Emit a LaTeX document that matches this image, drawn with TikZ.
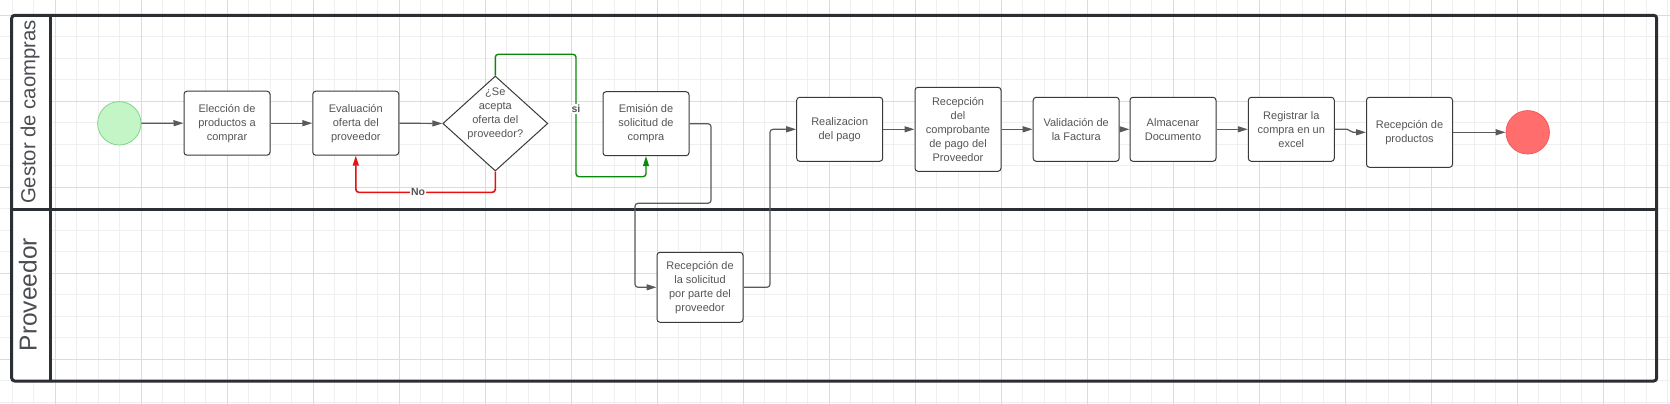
\documentclass[tikz,border=0pt]{standalone}
\usepackage{fontspec}
\setmainfont{Liberation Sans}
\usetikzlibrary{arrows.meta,shapes.geometric}
\definecolor{gridminor}{HTML}{EFEFEF}
\definecolor{gridmajor}{HTML}{DCDCDC}
\definecolor{framec}{HTML}{2B2E33}
\definecolor{boxline}{HTML}{3A3A3A}
\definecolor{txt}{HTML}{555555}
\definecolor{lanetxt}{HTML}{4A4D52}
\definecolor{conn}{HTML}{5A5A5A}
\definecolor{okgreen}{HTML}{0A8A0A}
\definecolor{nored}{HTML}{E81010}
\definecolor{startfill}{HTML}{C3F5C7}
\definecolor{startline}{HTML}{80D686}
\definecolor{endfill}{HTML}{FF6D6D}
\definecolor{endline}{HTML}{F05A5A}
\begin{document}
\begin{tikzpicture}[x=1pt,y=-1pt,
  gminor/.style={draw=gridminor, line width=0.9pt},
  gmajor/.style={draw=gridmajor, line width=0.9pt},
  frameline/.style={draw=framec, line width=3pt},
  stepbox/.style={draw=boxline, line width=1pt, fill=white, rounded corners=3pt,
    minimum width=86pt, minimum height=64pt, inner sep=0pt, align=center,
    text=txt, font=\fontsize{11}{14}\selectfont},
  decision/.style={diamond, draw=boxline, line width=1pt, fill=white,
    minimum width=105pt, minimum height=95pt, inner sep=0pt},
  plaintext/.style={inner sep=0pt, align=center, text=txt, font=\fontsize{11}{14}\selectfont},
  lanelabel/.style={rotate=90, anchor=base, inner sep=0pt, text=lanetxt},
  conn/.style={draw=conn, line width=1.2pt, rounded corners=3pt,
    -{Triangle[length=10pt,width=6pt]}},
  yesline/.style={conn, draw=okgreen, line width=1.4pt},
  noline/.style={conn, draw=nored, line width=1.6pt},
  lbl/.style={fill=white, inner sep=1pt, text=txt, font=\bfseries\fontsize{10.5}{12}\selectfont}
]
\useasboundingbox (0,0) rectangle (1670,404);
\fill[white] (0,0) rectangle (1670,404);
% grid
\foreach \i in {0,...,77} \draw[gminor] ({12.3+21.5*\i},0) -- ({12.3+21.5*\i},404);
\foreach \j in {0,...,18} \draw[gminor] (0,{15.3+21.5*\j}) -- (1670,{15.3+21.5*\j});
\foreach \i in {0,...,18} \draw[gmajor] ({55.3+86*\i},0) -- ({55.3+86*\i},404);
\foreach \j in {0,...,4} \draw[gmajor] (0,{15.3+86*\j}) -- (1670,{15.3+86*\j});
% pool frame
\fill[white] (11.7,15.3) rectangle (50,381);
\draw[frameline, rounded corners=3pt] (11.7,15.3) rectangle (1656.7,381);
\draw[frameline] (50,15.3) -- (50,381);
\draw[frameline] (11.7,209.3) -- (1656.7,209.3);
\node[lanelabel, font=\fontsize{20.3}{24}\selectfont] (lane1) at (35.3,112) {Gestor de caompras};
\node[lanelabel, font=\fontsize{24.5}{28}\selectfont] (lane2) at (36.7,294.7) {Proveedor};
% nodes
\node[circle, draw=startline, fill=startfill, line width=0.8pt, minimum size=43.4pt, inner sep=0pt] (start) at (119.3,123.3) {};
\node[stepbox] (b1) at (227,123.2) {Elección de\\productos a\\comprar};
\node[stepbox] (b2) at (355.8,123.2) {Evaluación\\oferta del\\proveedor};
\node[decision] (dia) at (495.3,123.5) {};
\node[plaintext] (diatext) at (495.3,113.8) {¿Se\\acepta\\oferta del\\proveedor?};
\node[stepbox] (b3) at (646,123.7) {Emisión de\\solicitud de\\compra};
\node[stepbox, minimum height=70pt] (b4) at (700,287.3) {Recepción de\\la solicitud\\por parte del\\proveedor};
\node[stepbox] (b5) at (839.7,129.3) {Realizacion\\del pago};
\node[stepbox, minimum height=84pt] (b6) at (958,129.3) {Recepción\\del\\comprobante\\de pago del\\Proveedor};
\node[stepbox] (b7) at (1076.2,129.3) {Validación de\\la Factura};
\node[stepbox] (b8) at (1173,129.3) {Almacenar\\Documento};
\node[stepbox] (b9) at (1291.3,129.3) {Registrar la\\compra en un\\excel};
\node[stepbox, minimum height=70pt] (b10) at (1409.5,132.3) {Recepción de\\productos};
\node[circle, draw=endline, fill=endfill, line width=0.8pt, minimum size=43.4pt, inner sep=0pt] (end) at (1527.7,132.3) {};
% waypoints
\coordinate (gA) at (576,54.3);
\coordinate (gB) at (576,176.7);
\coordinate (rY) at (0,192.3);
\coordinate (c1) at (711,203.3);
\coordinate (c2) at (635,203.3);
\coordinate (c3) at (770,200);
\coordinate (j1) at (1347,129.3);
\coordinate (j2) at (1350.5,129.3);
\coordinate (j3) at (1349.5,132.3);
\coordinate (j4) at (1353,132.3);
% connectors
\draw[conn] (start.east) -- (b1.west);
\draw[conn] (b1.east) -- (b2.west);
\draw[conn] (b2.east) -- (dia.west);
\draw[yesline] (dia.north) |- (gA) -- node[lbl, pos=0.447] (lsi) {si} (gB) -| (b3.south);
\draw[noline] (dia.south) -- (dia.south |- rY) -- node[lbl, pos=0.554] (lno) {No} (b2.south |- rY) -- (b2.south);
\draw[conn] (b3.east) -| (c1) -- (c2) |- (b4.west);
\draw[conn] (b4.east) -| (c3) |- (b5.west);
\draw[conn] (b5.east) -- (b6.west |- b5.east);
\draw[conn] (b6.east |- b7.west) -- (b7.west);
\draw[conn] (b7.east) -- (b8.west);
\draw[conn] (b8.east) -- (b9.west);
\draw[conn, sharp corners] (b9.east) -- (j1) .. controls (j2) and (j3) .. (j4) -- (b10.west);
\draw[conn] (b10.east) -- (end.west);
\end{tikzpicture}
\end{document}
